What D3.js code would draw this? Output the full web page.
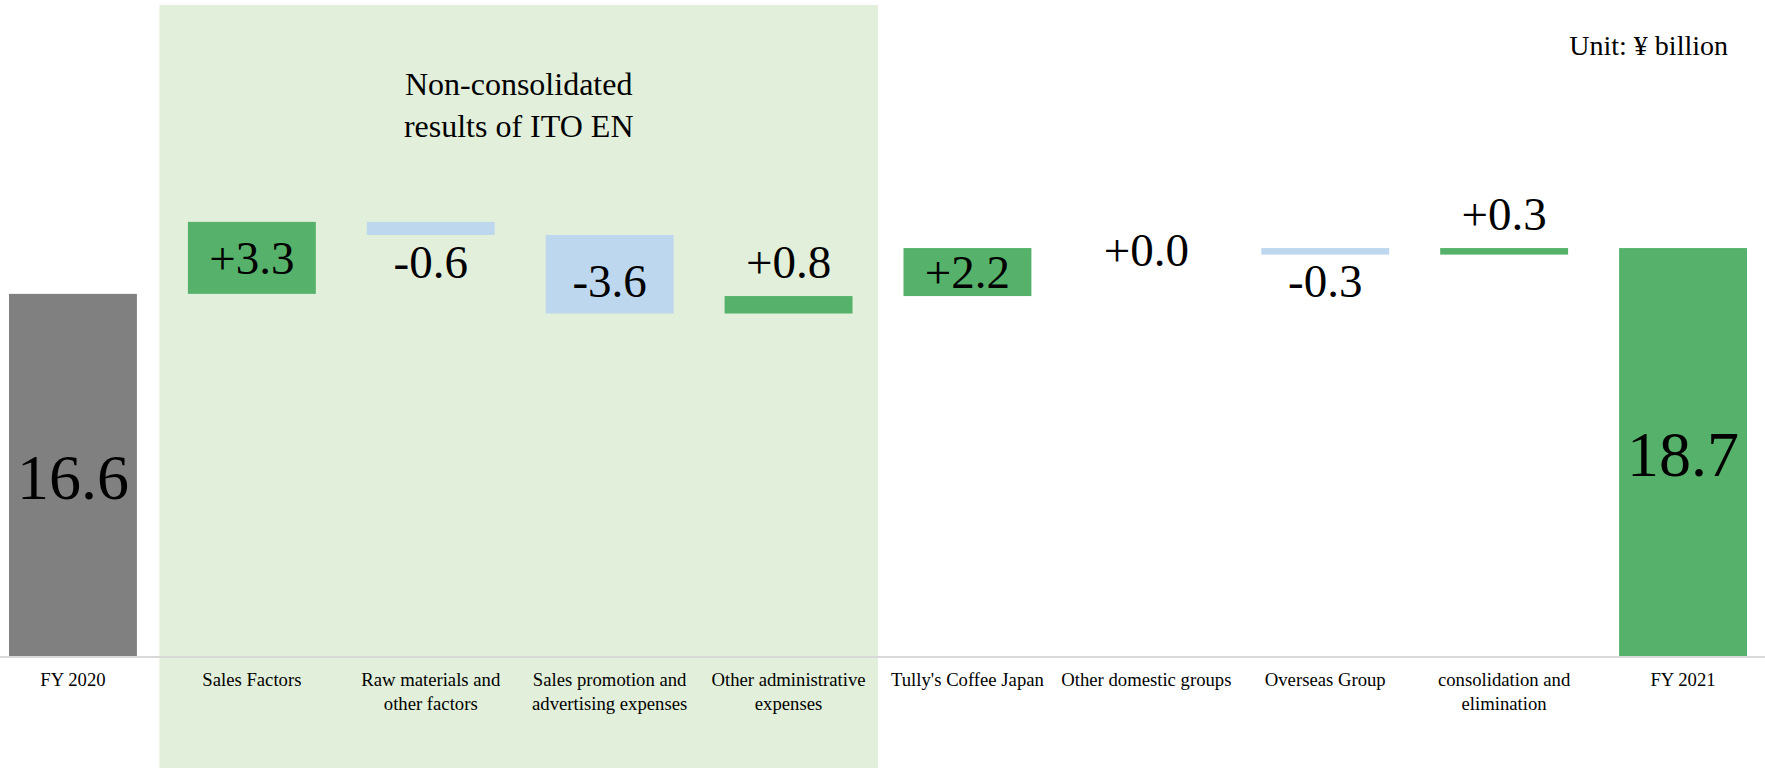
<!DOCTYPE html>
<html>
<head>
<meta charset="utf-8">
<script src="https://cdn.jsdelivr.net/npm/d3@7"></script>
<style>
  html, body { margin: 0; padding: 0; background: #ffffff; }
  svg { display: block; }
  text { font-family: "Liberation Serif", "Times New Roman", serif; fill: #000; }
</style>
</head>
<body>
<svg id="chart" width="1765" height="768"></svg>
<script>
// ---- data ----
const categories = [
  "FY 2020", "Sales Factors", "Raw materials and other factors",
  "Sales promotion and advertising expenses", "Other administrative expenses",
  "Tully's Coffee Japan", "Other domestic groups", "Overseas Group",
  "consolidation and elimination", "FY 2021"
];
const categoryLines = [
  ["FY 2020"], ["Sales Factors"], ["Raw materials and", "other factors"],
  ["Sales promotion and", "advertising expenses"], ["Other administrative", "expenses"],
  ["Tully's Coffee Japan"], ["Other domestic groups"], ["Overseas Group"],
  ["consolidation and", "elimination"], ["FY 2021"]
];
const values = [16.6, 3.3, -0.6, -3.6, 0.8, 2.2, 0.0, -0.3, 0.3, 18.7];
const kinds = ["start", "delta", "delta", "delta", "delta", "delta", "delta", "delta", "delta", "total"];
const groupTitle = ["Non-consolidated", "results of ITO EN"];
const groupMembers = ["Sales Factors", "Raw materials and other factors",
  "Sales promotion and advertising expenses", "Other administrative expenses"];
const unitLabel = "Unit: \u00a5 billion";

// ---- styles ----
const W = 1765, H = 768;
const baseY = 656;
const colors = { start: "#808080", total: "#56b26b", up: "#56b26b", down: "#bdd7ee", band: "#e2efda", axis: "#d9d9d9" };

const svg = d3.select("#chart");

// scales
const x = d3.scaleBand().domain(categories).range([9, 1747]).paddingInner(0.285).paddingOuter(0);
const y = d3.scaleLinear().domain([0, 20]).range([baseY, baseY - 436.3]);

// compute waterfall
let run = 0;
const bars = categories.map((c, i) => {
  const v = values[i], k = kinds[i];
  let y0, y1;
  if (k === "start" || k === "total") { y0 = 0; y1 = v; run = v; }
  else { y0 = run; y1 = run + v; run = y1; }
  return { c, v, k, y0, y1, i };
});

const fmt = d3.formatLocale({ decimal: ".", thousands: ",", grouping: [3], currency: ["", ""], minus: "-" });
const fmtDelta = fmt.format("+.1f");
const fmtTotal = fmt.format(".1f");

// group background
const step = x.step();
const gap = step - x.bandwidth();
const gx0 = x(groupMembers[0]) - gap / 2 - 3;
const gx1 = x(groupMembers[groupMembers.length - 1]) + x.bandwidth() + gap / 2;
svg.append("rect")
  .attr("x", gx0).attr("y", 5)
  .attr("width", gx1 - gx0).attr("height", H - 5)
  .attr("fill", colors.band);

svg.append("text")
  .attr("x", (gx0 + gx1) / 2)
  .attr("y", 95)
  .attr("text-anchor", "middle")
  .style("font-size", "32px")
  .selectAll("tspan").data(groupTitle).join("tspan")
  .attr("x", (gx0 + gx1) / 2)
  .attr("dy", (d, i) => i === 0 ? 0 : 42)
  .text(d => d);

// unit
svg.append("text")
  .attr("x", 1728).attr("y", 55)
  .attr("text-anchor", "end")
  .style("font-size", "28px")
  .text(unitLabel);

// bars
svg.append("g").selectAll("rect").data(bars).join("rect")
  .attr("x", d => x(d.c))
  .attr("width", x.bandwidth())
  .attr("y", d => y(Math.max(d.y0, d.y1)))
  .attr("height", d => Math.abs(y(d.y0) - y(d.y1)))
  .attr("fill", d => d.k === "start" ? colors.start : d.k === "total" ? colors.total : (d.v >= 0 ? colors.up : colors.down));

// axis baseline
svg.append("line")
  .attr("x1", 0).attr("x2", W)
  .attr("y1", baseY + 1).attr("y2", baseY + 1)
  .attr("stroke", colors.axis).attr("stroke-width", 2);

// value labels
const bigFs = 64, fs = 47;
svg.append("g").selectAll("text").data(bars).join("text")
  .attr("text-anchor", "middle")
  .attr("x", d => x(d.c) + x.bandwidth() / 2)
  .style("font-size", d => (d.k === "delta" ? fs : bigFs) + "px")
  .text(d => d.k === "delta" ? fmtDelta(d.v) : fmtTotal(d.v))
  .attr("y", d => {
    const top = y(Math.max(d.y0, d.y1)), bot = y(Math.min(d.y0, d.y1));
    const h = bot - top;
    const f = d.k === "delta" ? fs : bigFs;
    const half = 0.338 * f;
    if (d.k !== "delta") return (top + bot) / 2 + half + 2;
    if (h > 40) return (top + bot) / 2 + half + (d.v < 0 ? 7 : 0);
    if (d.v === 0) return top + half + 2;
    if (d.v > 0) return top - 18;
    return bot + 11 + 2 * half;
  });

// category labels
const cat = svg.append("g").selectAll("text").data(bars).join("text")
  .attr("text-anchor", "middle")
  .attr("y", 686)
  .style("font-size", "18.7px");
cat.selectAll("tspan").data(d => categoryLines[d.i].map(t => ({ t, cx: x(d.c) + x.bandwidth() / 2 }))).join("tspan")
  .attr("x", d => d.cx)
  .attr("dy", (d, i) => i === 0 ? 0 : 24)
  .text(d => d.t);
</script>
</body>
</html>
